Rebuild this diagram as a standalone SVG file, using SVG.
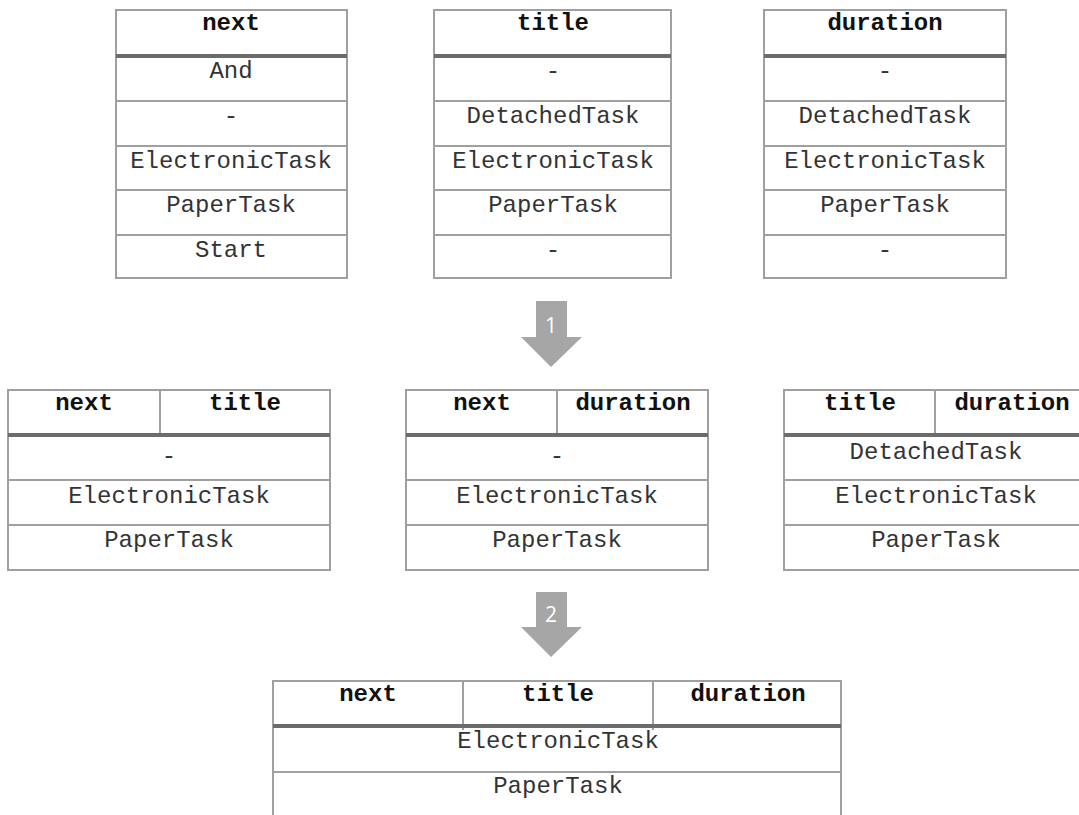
<svg xmlns="http://www.w3.org/2000/svg" width="1079" height="815" viewBox="0 0 1079 815">
<style>
.b{fill:none;stroke:#a0a0a0;stroke-width:2}
.h{stroke:#6b6b6b;stroke-width:4}
.l{stroke:#a0a0a0;stroke-width:2}
.th{font-family:"Liberation Mono",monospace;font-weight:bold;font-size:24px;fill:#111;text-anchor:middle}
.td{font-family:"Liberation Mono",monospace;font-size:24px;fill:#333;text-anchor:middle}
.ar{fill:#a6a6a6}
.an{font-family:"Open Sans","Liberation Sans",sans-serif;font-size:21px;fill:#fff;text-anchor:middle}
</style>
<rect width="1079" height="815" fill="#fff"/>
<g id="t-next">
<rect class="b" x="116" y="10" width="231" height="268"/>
<line class="l" x1="116" y1="101" x2="347" y2="101"/><line class="l" x1="116" y1="146" x2="347" y2="146"/><line class="l" x1="116" y1="190" x2="347" y2="190"/><line class="l" x1="116" y1="235" x2="347" y2="235"/>
<line class="h" x1="116" y1="56" x2="347" y2="56"/>
<text class="th" x="231" y="30">next</text>
<text class="td" x="231" y="78">And</text>
<text class="td" x="231" y="123">-</text>
<text class="td" x="231" y="168">ElectronicTask</text>
<text class="td" x="231" y="212">PaperTask</text>
<text class="td" x="231" y="257">Start</text>
</g>
<g id="t-title">
<rect class="b" x="434" y="10" width="237" height="268"/>
<line class="l" x1="434" y1="101" x2="671" y2="101"/><line class="l" x1="434" y1="146" x2="671" y2="146"/><line class="l" x1="434" y1="190" x2="671" y2="190"/><line class="l" x1="434" y1="235" x2="671" y2="235"/>
<line class="h" x1="434" y1="56" x2="671" y2="56"/>
<text class="th" x="553" y="30">title</text>
<text class="td" x="553" y="78">-</text>
<text class="td" x="553" y="123">DetachedTask</text>
<text class="td" x="553" y="168">ElectronicTask</text>
<text class="td" x="553" y="212">PaperTask</text>
<text class="td" x="553" y="257">-</text>
</g>
<g id="t-duration">
<rect class="b" x="764" y="10" width="242" height="268"/>
<line class="l" x1="764" y1="101" x2="1006" y2="101"/><line class="l" x1="764" y1="146" x2="1006" y2="146"/><line class="l" x1="764" y1="190" x2="1006" y2="190"/><line class="l" x1="764" y1="235" x2="1006" y2="235"/>
<line class="h" x1="764" y1="56" x2="1006" y2="56"/>
<text class="th" x="885" y="30">duration</text>
<text class="td" x="885" y="78">-</text>
<text class="td" x="885" y="123">DetachedTask</text>
<text class="td" x="885" y="168">ElectronicTask</text>
<text class="td" x="885" y="212">PaperTask</text>
<text class="td" x="885" y="257">-</text>
</g>
<g id="arrow1">
<polygon class="ar" points="536,301 567,301 567,337 582,337 551,367 521,337 536,337"/>
<text class="an" x="551" y="333">1</text>
</g>
<g id="t-next-title">
<rect class="b" x="8" y="390" width="322" height="180"/>
<line class="l" x1="160" y1="390" x2="160" y2="435"/>
<line class="l" x1="8" y1="480" x2="330" y2="480"/><line class="l" x1="8" y1="525" x2="330" y2="525"/>
<line class="h" x1="8" y1="435" x2="330" y2="435"/>
<text class="th" x="84" y="410">next</text>
<text class="th" x="245" y="410">title</text>
<text class="td" x="169" y="463">-</text>
<text class="td" x="169" y="503">ElectronicTask</text>
<text class="td" x="169" y="547">PaperTask</text>
</g>
<g id="t-next-duration">
<rect class="b" x="406" y="390" width="302" height="180"/>
<line class="l" x1="557" y1="390" x2="557" y2="435"/>
<line class="l" x1="406" y1="480" x2="708" y2="480"/><line class="l" x1="406" y1="525" x2="708" y2="525"/>
<line class="h" x1="406" y1="435" x2="708" y2="435"/>
<text class="th" x="482" y="410">next</text>
<text class="th" x="633" y="410">duration</text>
<text class="td" x="557" y="463">-</text>
<text class="td" x="557" y="503">ElectronicTask</text>
<text class="td" x="557" y="547">PaperTask</text>
</g>
<g id="t-title-duration">
<rect class="b" x="784" y="390" width="305" height="180"/>
<line class="l" x1="935" y1="390" x2="935" y2="435"/>
<line class="l" x1="784" y1="480" x2="1089" y2="480"/><line class="l" x1="784" y1="525" x2="1089" y2="525"/>
<line class="h" x1="784" y1="435" x2="1089" y2="435"/>
<text class="th" x="860" y="410">title</text>
<text class="th" x="1012" y="410">duration</text>
<text class="td" x="936" y="459">DetachedTask</text>
<text class="td" x="936" y="503">ElectronicTask</text>
<text class="td" x="936" y="547">PaperTask</text>
</g>
<g id="arrow2">
<polygon class="ar" points="536,592 567,592 567,627 582,627 551,657 521,627 536,627"/>
<text class="an" x="551" y="622">2</text>
</g>
<g id="t-all">
<rect class="b" x="273" y="681" width="568" height="145"/>
<line class="l" x1="463" y1="681" x2="463" y2="730"/><line class="l" x1="653" y1="681" x2="653" y2="730"/>
<line class="l" x1="273" y1="772" x2="841" y2="772"/>
<line class="h" x1="273" y1="726" x2="841" y2="726"/>
<text class="th" x="368" y="701">next</text>
<text class="th" x="558" y="701">title</text>
<text class="th" x="748" y="701">duration</text>
<text class="td" x="558" y="748">ElectronicTask</text>
<text class="td" x="558" y="793">PaperTask</text>
</g>
</svg>
